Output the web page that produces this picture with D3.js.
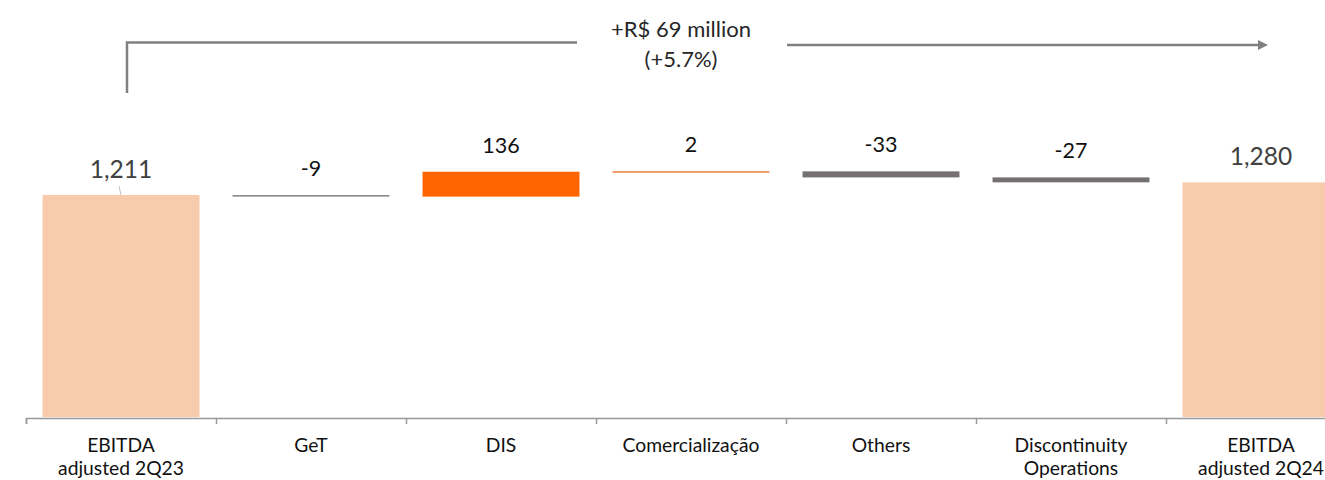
<!DOCTYPE html>
<html>
<head>
<meta charset="utf-8">
<script src="https://cdn.jsdelivr.net/npm/d3@7"></script>
<style>
  body { margin: 0; background: #fff; }
  svg { display: block; font-family: Lato, "Open Sans", sans-serif; }
</style>
</head>
<body>
<div id="chart"></div>
<script>
// waterfall: EBITDA adjusted 2Q23 -> 2Q24 (R$ million)
var categories = ['EBITDA|adjusted 2Q23', 'GeT', 'DIS', 'Comercialização', 'Others', 'Discontinuity|Operations', 'EBITDA|adjusted 2Q24']
var values = [1211, -9, 136, 2, -33, -27, 1280]
var kinds = ['total', 'delta', 'delta', 'delta', 'delta', 'delta', 'total']
var labels = ['1,211', '-9', '136', '2', '-33', '-27', '1,280']
var note = ['+R$ 69 million', '(+5.7%)']

var w = 1325
  , h = 480
  , left = 26
  , step = 190
  , base = 417

// running totals for the floating bars
var run = 0
var data = values.map(function (v, i) {
  var d = { name: categories[i], value: v, kind: kinds[i], label: labels[i] }
  if (d.kind == 'total') { d.y0 = 0; d.y1 = v; run = v }
  else { d.y0 = run; d.y1 = run + v; run += v }
  return d
})

function fill (d) {
  if (d.kind == 'total') return '#f8cbad'
  if (d.value > 20) return '#ff6600'
  if (d.value > 0) return '#e0600a'
  if (d.value < -20) return '#767171'
  return '#8c8c8c'
}

var x = d3.scaleBand()
  .domain(categories)
  .range([left, left + step * categories.length])
  .paddingInner(0.174)
  .paddingOuter(0.087)

var y = d3.scaleLinear().domain([0, 1211]).range([base, 195])

var svg = d3.select('#chart').append('svg').attr('width', w).attr('height', h)

// bars
svg.selectAll('rect.bar').data(data)
  .enter().append('rect')
  .attr('class', 'bar')
  .attr('x', function (d) { return x(d.name) })
  .attr('width', x.bandwidth())
  .attr('y', function (d) { return y(Math.max(d.y0, d.y1)) })
  .attr('height', function (d) { return Math.max(1.2, Math.abs(y(d.y0) - y(d.y1))) })
  .attr('fill', fill)

// axis with ticks on the category boundaries
var edge = d3.scaleLinear().domain([0, categories.length]).range(x.range())
svg.append('g')
  .attr('transform', 'translate(0,' + (base + 1) + ')')
  .call(d3.axisBottom(edge).ticks(categories.length).tickFormat('').tickSize(6).tickSizeOuter(6))
  .call(function (g) {
    g.select('.domain').attr('stroke', '#999').attr('stroke-width', 1.5)
    g.selectAll('.tick line').attr('stroke', '#999').attr('stroke-width', 1.5)
  })

// category labels
var cat = svg.selectAll('text.cat').data(data)
  .enter().append('text')
  .attr('class', 'cat')
  .attr('text-anchor', 'middle')
  .attr('font-size', 19.3)
  .attr('fill', '#111')
cat.selectAll('tspan').data(function (d) {
    return d.name.split('|').map(function (s) { return { s: s, cx: x(d.name) + x.bandwidth() / 2 } })
  })
  .enter().append('tspan')
  .attr('x', function (t) { return t.cx })
  .attr('y', function (t, i) { return 452 + i * 23 })
  .text(function (t) { return t.s })

// value labels
svg.selectAll('text.val').data(data)
  .enter().append('text')
  .attr('class', 'val')
  .attr('text-anchor', 'middle')
  .attr('x', function (d) { return x(d.name) + x.bandwidth() / 2 })
  .attr('y', function (d) { return y(Math.max(d.y0, d.y1)) - (d.kind == 'total' ? 17 : 19) })
  .attr('font-size', function (d) { return d.kind == 'total' ? 24.5 : 21.5 })
  .attr('fill', function (d) { return d.kind == 'total' ? '#404040' : '#111' })
  .text(function (d) { return d.label })

// leader for the first total
var c0 = x(categories[0]) + x.bandwidth() / 2
svg.append('line')
  .attr('x1', c0 - 2).attr('y1', y(1211) - 9)
  .attr('x2', c0).attr('y2', y(1211))
  .attr('stroke', '#bfbfbf').attr('stroke-width', 1)

// change bracket and arrow
var cFirst = c0 + 6
  , cLast = x(categories[categories.length - 1]) + x.bandwidth() / 2 + 8
svg.append('defs').append('marker')
  .attr('id', 'head').attr('viewBox', '0 0 10 10')
  .attr('refX', 5).attr('refY', 5)
  .attr('markerWidth', 4).attr('markerHeight', 4)
  .attr('orient', 'auto')
  .append('path').attr('d', 'M0,0L10,5L0,10z').attr('fill', '#808080')

svg.append('path')
  .attr('d', 'M' + cFirst + ',93V42.5H577')
  .attr('fill', 'none').attr('stroke', '#808080').attr('stroke-width', 2.5)
svg.append('line')
  .attr('x1', 787).attr('y1', 45).attr('x2', cLast - 6).attr('y2', 45)
  .attr('stroke', '#808080').attr('stroke-width', 2.5)
  .attr('marker-end', 'url(#head)')

svg.selectAll('text.note').data(note)
  .enter().append('text')
  .attr('class', 'note')
  .attr('text-anchor', 'middle')
  .attr('x', 681)
  .attr('y', function (d, i) { return 37 + i * 30 })
  .attr('font-size', 22)
  .attr('fill', '#262626')
  .text(function (d) { return d })
</script>
</body>
</html>
